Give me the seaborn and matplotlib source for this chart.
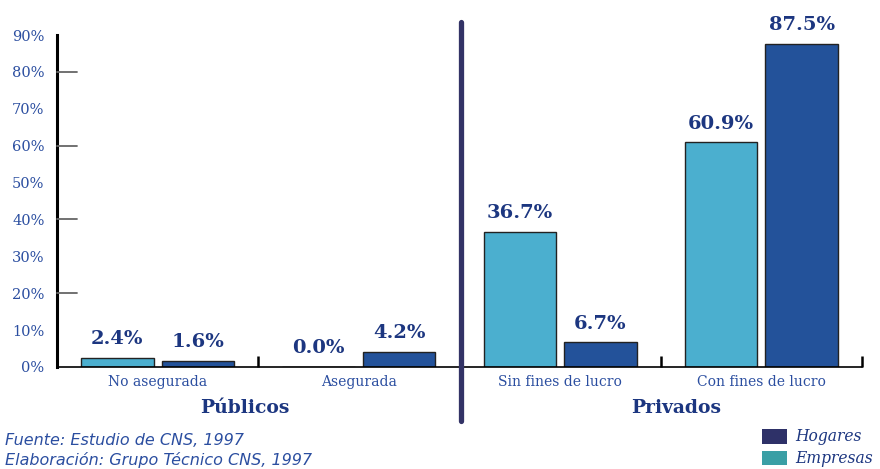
import matplotlib
matplotlib.use("Agg")
import matplotlib.pyplot as plt
import seaborn as sns
import pandas as pd
from matplotlib.patches import Patch
from matplotlib.lines import Line2D

categories = ["No asegurada", "Asegurada", "Sin fines de lucro", "Con fines de lucro"]
empresas = [2.4, 0.0, 36.7, 60.9]
hogares = [1.6, 4.2, 6.7, 87.5]
series = ["Empresas", "Hogares"]
groups = ["Públicos", "Privados"]
yticks = [0, 10, 20, 30, 40, 50, 60, 70, 80, 90]
ytick_labels = ["0%", "10%", "20%", "30%", "40%", "50%", "60%", "70%", "80%", "90%"]
inner_ticks = [20, 40, 60, 80]

df = pd.DataFrame({
    "cat": categories * 2,
    "serie": [series[0]] * 4 + [series[1]] * 4,
    "val": empresas + hogares,
})

sns.set_theme(style="white")
plt.rcParams["font.family"] = ["DejaVu Serif", "DejaVu Sans"]

bar_colors = {"Empresas": "#4BAFCF", "Hogares": "#23529A"}
legend_colors = {"Hogares": "#2E3168", "Empresas": "#3A9FA5"}
txt_dark = "#1C3680"
txt_blue = "#2B4EA0"

fig = plt.figure(figsize=(8.8, 4.69), dpi=100)
ax = fig.add_axes([57 / 880, 1 - 367 / 469, 805 / 880, 332 / 469])

sns.barplot(data=df, x="cat", y="val", hue="serie", order=categories,
            hue_order=series, palette=bar_colors, saturation=1, width=0.8, gap=0.1,
            edgecolor="#222222", linewidth=1.0, ax=ax, legend=False)

ax.set_xlim(-0.5, 3.5)
ax.set_ylim(0, 90)
ax.set_xlabel("")
ax.set_ylabel("")

for c in ax.containers:
    labels = [f"{v:.1f}%" for v in c.datavalues]
    ax.bar_label(c, labels=labels, padding=7, fontsize=14, fontweight="bold",
                 color=txt_dark, clip_on=False)

ax.set_yticks(yticks)
ax.set_yticklabels(ytick_labels, fontsize=10.5, color=txt_blue)
ax.tick_params(axis="y", which="major", length=0, pad=9)
# inward gray ticks
for v in inner_ticks:
    ax.plot([0, 20 / 805], [v, v], color="#666666", linewidth=1.3,
            transform=ax.get_yaxis_transform(), clip_on=False, zorder=3)

ax.set_xticks(range(len(categories)))
ax.set_xticklabels(categories, fontsize=10, color=txt_blue)
ax.set_xticks([0.5, 2.5, 3.5], minor=True)
ax.tick_params(axis="x", which="major", length=0, pad=6)
ax.tick_params(axis="x", which="minor", direction="in", length=8,
               width=1.8, color="black", bottom=True)

for s in ["top", "right"]:
    ax.spines[s].set_visible(False)
ax.spines["left"].set_color("black")
ax.spines["left"].set_linewidth(2.2)
ax.spines["bottom"].set_color("black")
ax.spines["bottom"].set_linewidth(1.2)

# divider between groups
fig.add_artist(Line2D([461 / 880, 461 / 880], [1 - 22 / 469, 1 - 421 / 469],
                      color="#333366", linewidth=3.8, transform=fig.transFigure))

# group labels
fig.text(245 / 880, 1 - 408 / 469, groups[0], ha="center", va="center",
         fontsize=13.5, fontweight="bold", color=txt_dark)
fig.text(676 / 880, 1 - 408 / 469, groups[1], ha="center", va="center",
         fontsize=13.5, fontweight="bold", color=txt_dark)

# footnotes
fig.text(5 / 880, 1 - 440 / 469, "Fuente: Estudio de CNS, 1997", ha="left",
         va="center", fontsize=11.5, style="italic", color=txt_blue,
         family=["DejaVu Sans"])
fig.text(5 / 880, 1 - 460 / 469, "Elaboración: Grupo Técnico CNS, 1997", ha="left",
         va="center", fontsize=11.5, style="italic", color=txt_blue,
         family=["DejaVu Sans"])

# legend
handles = [Patch(facecolor=legend_colors[k], edgecolor="none") for k in ["Hogares", "Empresas"]]
leg = fig.legend(handles, ["Hogares", "Empresas"], loc="upper left",
                 bbox_to_anchor=(753 / 880, 1 - 419 / 469), frameon=False,
                 handlelength=1.6, handleheight=1.1, handletextpad=0.5,
                 labelspacing=0.32, borderpad=0.1,
                 prop={"family": "DejaVu Serif", "style": "italic", "size": 11.2})
for t in leg.get_texts():
    t.set_color(txt_dark)

fig.savefig("out.png", dpi=100)
